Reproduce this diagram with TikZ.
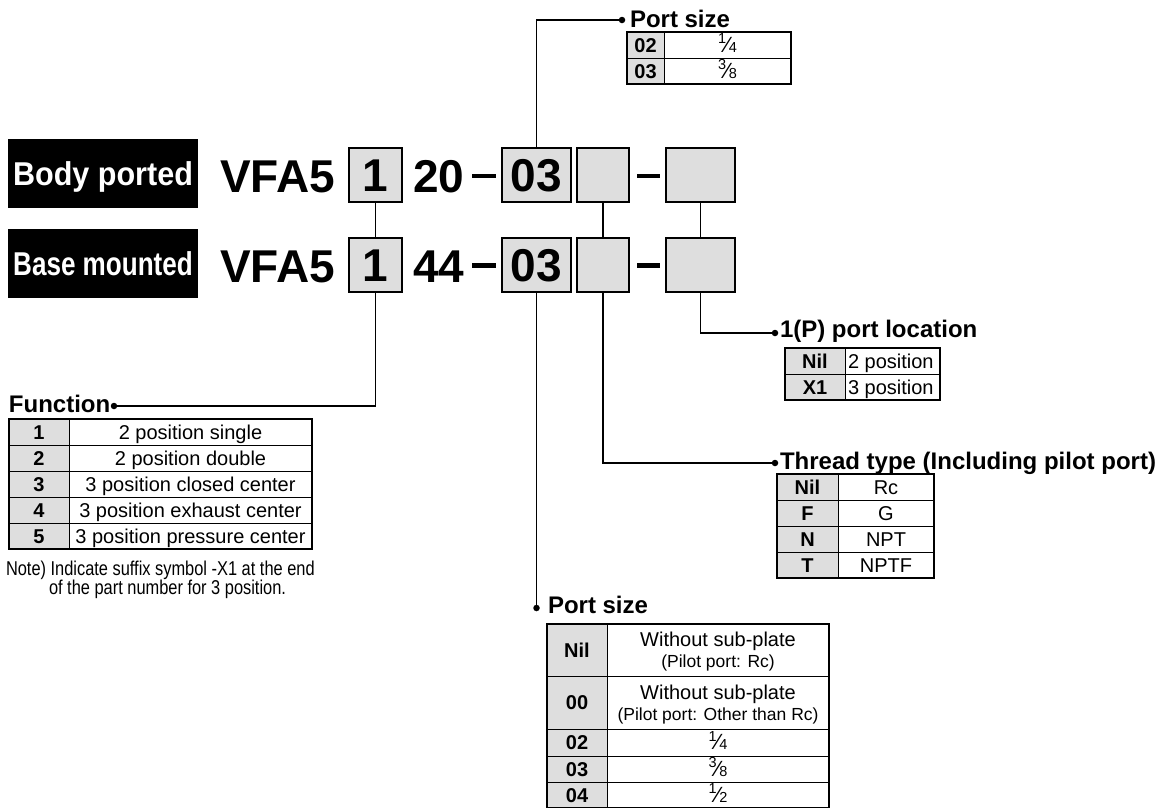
\documentclass[tikz,border=0pt]{standalone}
\usepackage{fontspec}
\usepackage{graphicx}
\setmainfont{Liberation Sans}
\newfontfamily\narrowfont{Liberation Sans}[FakeStretch=0.82]
\definecolor{cellgray}{HTML}{DEDEDE}
\newcommand\frc[2]{\raisebox{8.5pt}{\fontsize{14.5}{14.5}\selectfont #1}\kern-0.5pt{\fontsize{22}{22}\selectfont\symbol{"2044}}\kern-0.5pt{\fontsize{14.5}{14.5}\selectfont #2}}
\begin{document}
\begin{tikzpicture}[x=1pt,y=-1pt,
  every node/.style={inner sep=0pt, outer sep=0pt},
  pn/.style={font=\bfseries\fontsize{46}{46}\selectfont},
  pbox/.style={draw, fill=cellgray, line width=2pt, minimum height=54, text height=33pt, text depth=0pt, font=\bfseries\fontsize{46}{46}\selectfont},
  blabel/.style={fill=black, text=white, minimum width=190, minimum height=69, text height=24pt, text depth=0pt, font=\bfseries\fontsize{33}{33}\selectfont},
  dashbar/.style={fill=black, minimum height=4.5},
  conn/.style={line width=1.9pt},
  dot/.style={circle, fill=black, minimum size=6.5},
  head/.style={anchor=base west, font=\bfseries\fontsize{24}{26}\selectfont},
  cell/.style={draw, line width=1pt, minimum height=26, text height=14.3pt, text depth=0pt, anchor=north west, font=\fontsize{20}{22}\selectfont},
  codecell/.style={cell, fill=cellgray, font=\bfseries\fontsize{20}{22}\selectfont},
  txt/.style={anchor=base, font=\fontsize{20}{22}\selectfont},
  smalltxt/.style={anchor=base, font=\fontsize{17.5}{19}\selectfont},
  ltxt/.style={anchor=base west, font=\fontsize{20}{22}\selectfont},
  notetxt/.style={anchor=base west, font=\narrowfont\fontsize{20}{22}\selectfont},
  frame/.style={draw, line width=1.8pt}]
\useasboundingbox (0,0) rectangle (1159,807);

% black labels
\node[blabel] (lab1) at (103,173.5) {\scalebox{0.926}[1]{Body ported}};
\node[blabel] (lab2) at (103,263.5) {\scalebox{0.79}[1]{Base mounted}};

% row 1
\node[pn, anchor=base west] (ra0) at (220,192.5) {VFA5};
\node[pbox, minimum width=53] (ra1) at (375.5,175) {1};
\node[pn, anchor=base west] (ra2) at (413,192.5) {20};
\node[dashbar, minimum width=24] (rad1) at (484,176) {};
\node[pbox, minimum width=69] (ra3) at (536.5,175) {03};
\node[pbox, minimum width=52] (ra4) at (603,175) {};
\node[dashbar, minimum width=23] (rad2) at (648.5,176) {};
\node[pbox, minimum width=69] (ra5) at (700.5,175) {};

% row 2
\node[pn, anchor=base west] (rb0) at (220,282) {VFA5};
\node[pbox, minimum width=53] (rb1) at (375.5,264.5) {1};
\node[pn, anchor=base west] (rb2) at (413,282) {44};
\node[dashbar, minimum width=24] (rbd1) at (484,265.5) {};
\node[pbox, minimum width=69] (rb3) at (536.5,264.5) {03};
\node[pbox, minimum width=52] (rb4) at (603,264.5) {};
\node[dashbar, minimum width=23] (rbd2) at (648.5,265.5) {};
\node[pbox, minimum width=69] (rb5) at (700.5,264.5) {};

% connectors between rows
\draw[conn] (ra1.south) -- (rb1.north);
\draw[conn] (ra4.south) -- (rb4.north);
\draw[conn] (ra5.south) -- (rb5.north);

% dots and leaders
\node[dot] (dtop) at (622,20) {};
\node[dot] (dfun) at (114,406) {};
\node[dot] (dloc) at (775,333) {};
\node[dot] (dthr) at (775,463) {};
\node[dot] (dbot) at (536.5,608) {};
\draw[conn] (ra3.north) |- (dtop.center);
\draw[conn] (rb1.south) |- (dfun.center);
\draw[conn] (rb5.south) |- (dloc.center);
\draw[conn] (rb4.south) |- (dthr.center);
\draw[conn] (rb3.south) -- (dbot.center);

% headings
\node[head] (htop) at (630,27) {Port size};
\node[head] (hloc) at (780,337) {1(P) port location};
\node[head] (hthr) at (780,469) {Thread type (Including pilot port)};
\node[head] (hfun) at (9,412) {Function};
\node[head] (hbot) at (548,613) {Port size};

% top port size table
\node[codecell, minimum width=37] (t1a) at (627,32) {02};
\node[cell, minimum width=127] (t1b) at (664,32) {\frc14};
\node[codecell, minimum width=37] (t2a) at (627,58) {03};
\node[cell, minimum width=127] (t2b) at (664,58) {\frc38};
\draw[frame] (t1a.north west) rectangle (t2b.south east);

% function table
\foreach \cd/\tx [count=\i] in {1/2 position single, 2/2 position double, 3/3 position closed center, 4/3 position exhaust center, 5/3 position pressure center}{
  \node[codecell, minimum width=60] (fa\i) at (9,393+26*\i) {\cd};
  \node[cell, minimum width=243] (fb\i) at (69,393+26*\i) {\tx};
}
\draw[frame] (fa1.north west) rectangle (fb5.south east);
\node[notetxt] (note1) at (6,575) {Note) Indicate suffix symbol -X1 at the end};
\node[notetxt] (note2) at (49,594.5) {of the part number for 3 position.};

% 1(P) port location table
\node[codecell, minimum width=60] (la1) at (785,348) {Nil};
\node[cell, minimum width=95] (lb1) at (845,348) {};
\node[codecell, minimum width=60] (la2) at (785,374) {X1};
\node[cell, minimum width=95] (lb2) at (845,374) {};
\node[ltxt] (lt1) at (848,368.2) {2 position};
\node[ltxt] (lt2) at (848,394.2) {3 position};
\draw[frame] (la1.north west) rectangle (lb2.south east);

% thread type table
\foreach \cd/\tx [count=\i] in {Nil/Rc, F/G, N/NPT, T/NPTF}{
  \node[codecell, minimum width=61] (ha\i) at (777,448+26*\i) {\cd};
  \node[cell, minimum width=96] (hb\i) at (838,448+26*\i) {\tx};
}
\draw[frame] (ha1.north west) rectangle (hb4.south east);

% bottom port size table
\node[codecell, minimum width=60, minimum height=52.5] (pa1) at (547,624) {Nil};
\node[cell, minimum width=222, minimum height=52.5] (pb1) at (607,624) {};
\node[txt] (pt1a) at (718,646.5) {Without sub-plate};
\node[smalltxt] (pt1b) at (718,667) {(Pilot port: Rc)};
\node[codecell, minimum width=60, minimum height=52.5] (pa2) at (547,676.5) {00};
\node[cell, minimum width=222, minimum height=52.5] (pb2) at (607,676.5) {};
\node[txt] (pt2a) at (718,699.5) {Without sub-plate};
\node[smalltxt] (pt2b) at (718,720) {(Pilot port: Other than Rc)};
\node[codecell, minimum width=60, minimum height=27] (pa3) at (547,729) {02};
\node[cell, minimum width=222, minimum height=27] (pb3) at (607,729) {\frc14};
\node[codecell, minimum width=60] (pa4) at (547,756) {03};
\node[cell, minimum width=222] (pb4) at (607,756) {\frc38};
\node[codecell, minimum width=60] (pa5) at (547,782) {04};
\node[cell, minimum width=222] (pb5) at (607,782) {\frc12};
\draw[frame] (pa1.north west) rectangle (pb5.south east);
\end{tikzpicture}
\end{document}
